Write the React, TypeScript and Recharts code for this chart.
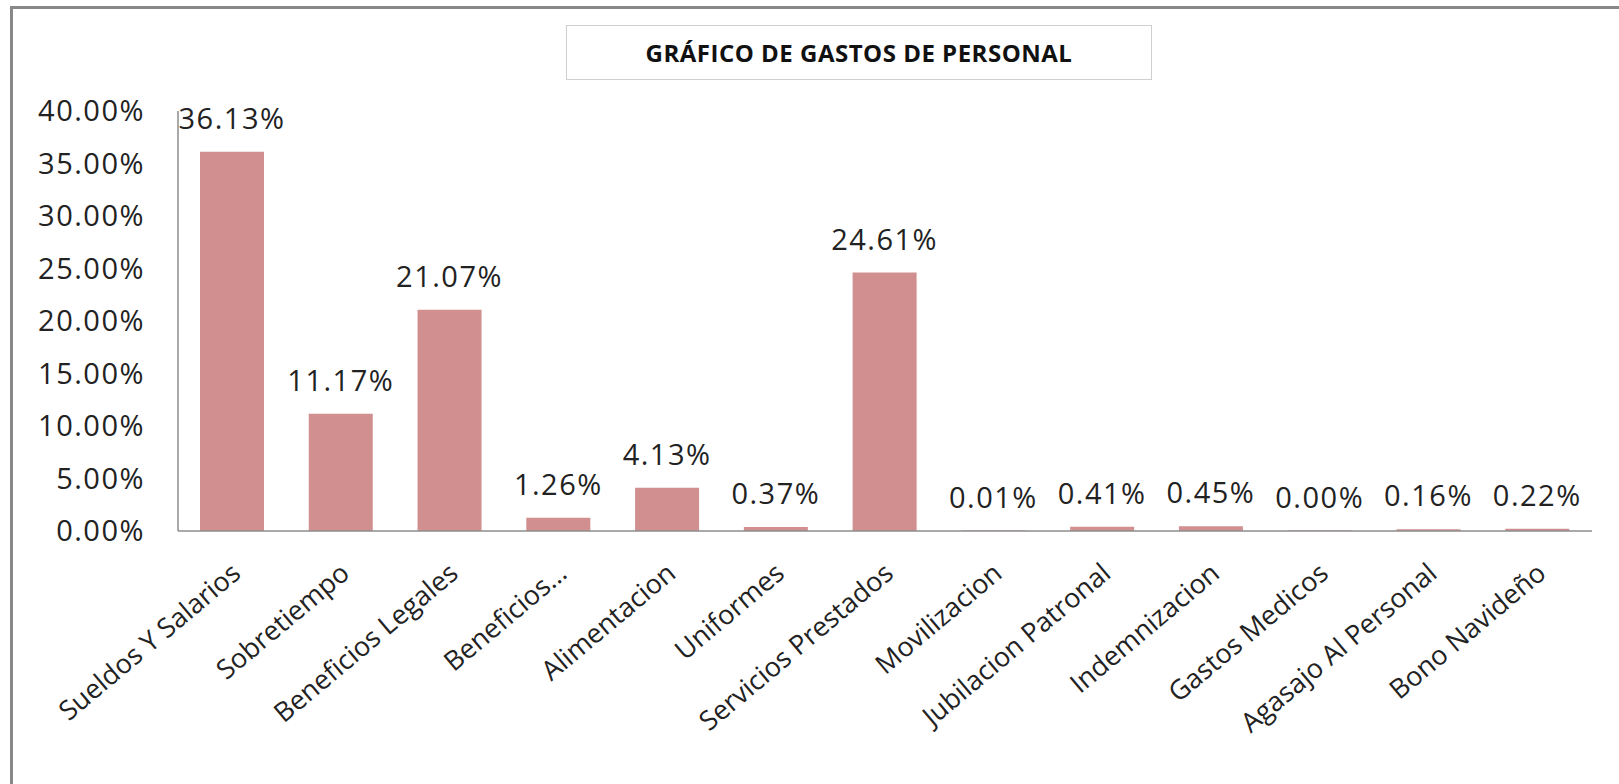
import { Bar, BarChart, LabelList, XAxis, YAxis } from "recharts";

const categorias = [
  "Sueldos Y Salarios",
  "Sobretiempo",
  "Beneficios Legales",
  "Beneficios…",
  "Alimentacion",
  "Uniformes",
  "Servicios Prestados",
  "Movilizacion",
  "Jubilacion Patronal",
  "Indemnizacion",
  "Gastos Medicos",
  "Agasajo Al Personal",
  "Bono Navideño",
];

const porcentajes = [36.13, 11.17, 21.07, 1.26, 4.13, 0.37, 24.61, 0.01, 0.41, 0.45, 0.0, 0.16, 0.22];

const yTicks = [0, 5, 10, 15, 20, 25, 30, 35, 40];

const FONT = "'Open Sans', sans-serif";
const BAR_COLOR = "#d18f8f";
const AXIS_COLOR = "#8c8c8c";

const pct = (v: number) => `${Number(v).toFixed(2)}%`;

function CategoriaTick({ x, y, payload }: any) {
  const ax = x + 10;
  const ay = y + 45;
  return (
    <text
      x={ax}
      y={ay}
      transform={`rotate(-40, ${ax}, ${ay})`}
      textAnchor="end"
      fontSize={27}
      fontFamily={FONT}
      fill="#222"
    >
      {payload.value}
    </text>
  );
}

export default function App() {
  const data = categorias.map((nombre, i) => ({ nombre, valor: porcentajes[i] }));

  return (
    <div
      style={{
        position: "absolute",
        left: 0,
        top: 0,
        width: 1619,
        height: 784,
        background: "#fff",
        overflow: "hidden",
      }}
    >
      {/* marco del grafico */}
      <div
        style={{
          position: "absolute",
          left: 10,
          top: 6,
          width: 1700,
          height: 900,
          borderLeft: "3px solid #888",
          borderTop: "3px solid #888",
        }}
      />
      <div
        style={{
          position: "absolute",
          left: 566,
          top: 25,
          width: 584,
          height: 53,
          border: "1.5px solid #cfcfcf",
          display: "flex",
          alignItems: "center",
          justifyContent: "center",
          fontFamily: FONT,
          fontWeight: 700,
          fontSize: 24,
          letterSpacing: 0.5,
          color: "#111",
        }}
      >
        GRÁFICO DE GASTOS DE PERSONAL
      </div>
      <div style={{ position: "absolute", left: 0, top: 0 }}>
        <BarChart
          width={1619}
          height={784}
          data={data}
          margin={{ top: 111, right: 27, left: 18, bottom: 53 }}
        >
          <XAxis
            dataKey="nombre"
            interval={0}
            height={200}
            tickLine={false}
            tickSize={0}
            tickMargin={0}
            axisLine={{ stroke: AXIS_COLOR, strokeWidth: 1.5 }}
            tick={<CategoriaTick />}
          />
          <YAxis
            domain={[0, 40]}
            ticks={yTicks}
            width={160}
            tickLine={false}
            tickSize={0}
            tickMargin={33}
            axisLine={{ stroke: AXIS_COLOR, strokeWidth: 1.5 }}
            tickFormatter={pct}
            tick={{ fontSize: 29, fontFamily: FONT, fill: "#222", letterSpacing: 1.5 }}
          />
          <Bar
            dataKey="valor"
            fill={BAR_COLOR}
            barSize={64}
            minPointSize={0.5}
            isAnimationActive={false}
          >
            <LabelList
              dataKey="valor"
              position="top"
              offset={23}
              formatter={pct}
              fontSize={29}
              fontFamily={FONT}
              fill="#222"
              letterSpacing={1.5}
            />
          </Bar>
        </BarChart>
      </div>
    </div>
  );
}
